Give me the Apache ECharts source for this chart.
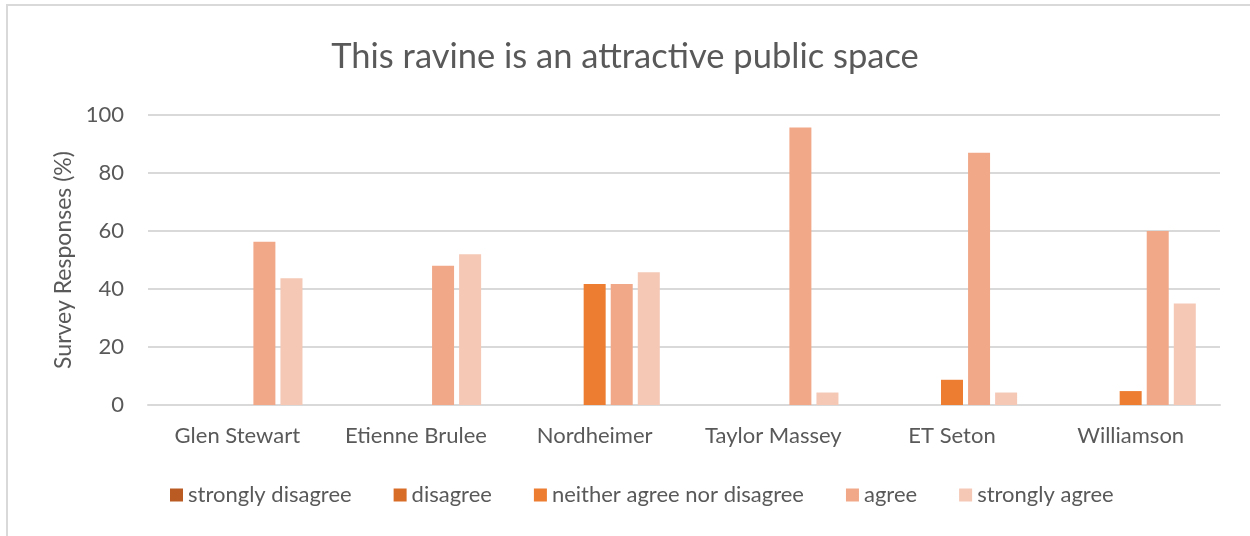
<!DOCTYPE html>
<html>
<head>
<meta charset="utf-8">
<script src="https://cdn.jsdelivr.net/npm/echarts@6/dist/echarts.min.js"></script>
<style>
  html, body { margin: 0; padding: 0; background: #ffffff; }
  #chart { width: 1250px; height: 536px; }
</style>
</head>
<body>
<div id="chart"></div>
<script>
// Ravine survey: share of responses per ravine (%)
const ravines = ['Glen Stewart', 'Etienne Brulee', 'Nordheimer', 'Taylor Massey', 'ET Seton', 'Williamson'];
const responseLabels = ['strongly disagree', 'disagree', 'neither agree nor disagree', 'agree', 'strongly agree'];
const stronglyDisagree = [0, 0, 0, 0, 0, 0];
const disagree = [0, 0, 0, 0, 0, 0];
const neither = [0, 0, 41.7, 0, 8.7, 4.8];
const agree = [56.3, 48, 41.7, 95.7, 87, 60];
const stronglyAgree = [43.7, 52, 45.8, 4.3, 4.3, 35];
const yTicks = [0, 20, 40, 60, 80, 100];

const seriesValues = [stronglyDisagree, disagree, neither, agree, stronglyAgree];
const colors = ['#B95B22', '#D86D28', '#ED7D31', '#F1A889', '#F5C7B5'];

const fontFamily = 'Lato, "Open Sans", sans-serif';
const textColor = '#595959';
const lineColor = '#d9d9d9';

const chart = echarts.init(document.getElementById('chart'), null, { renderer: 'canvas' });

chart.setOption({
  backgroundColor: '#ffffff',
  animation: false,
  color: colors,
  title: {
    text: 'This ravine is an attractive public space',
    left: 'center',
    top: 34,
    textStyle: { fontFamily, fontSize: 34.5, fontWeight: 'normal', color: textColor }
  },
  graphic: [{
    type: 'rect',
    shape: { x: 7, y: 5, width: 1400, height: 700 },
    style: { fill: 'none', stroke: lineColor, lineWidth: 2 },
    silent: true
  }],
  legend: {
    data: responseLabels,
    top: 479,
    left: 165,
    itemWidth: 13,
    itemHeight: 13,
    itemGap: 42,
    icon: 'rect',
    textStyle: { fontFamily, fontSize: 22, color: textColor }
  },
  grid: { left: 148, right: 30, top: 115, bottom: 131 },
  xAxis: {
    type: 'category',
    data: ravines,
    axisLine: { lineStyle: { color: lineColor, width: 2 } },
    axisTick: { show: false },
    axisLabel: { fontFamily, fontSize: 22, color: textColor, margin: 20, interval: 0, hideOverlap: false }
  },
  yAxis: {
    type: 'value',
    min: yTicks[0],
    max: yTicks[yTicks.length - 1],
    interval: yTicks[1] - yTicks[0],
    name: 'Survey Responses (%)',
    nameLocation: 'middle',
    nameGap: 73,
    nameTextStyle: { fontFamily, fontSize: 23, color: textColor },
    axisLine: { show: false },
    axisTick: { show: false },
    axisLabel: { fontFamily, fontSize: 22, color: textColor, margin: 24 },
    splitLine: { lineStyle: { color: lineColor, width: 2 } }
  },
  series: responseLabels.map((name, i) => ({
    name,
    type: 'bar',
    data: seriesValues[i],
    barWidth: 22,
    barGap: '23%',
    itemStyle: { color: colors[i] }
  }))
});
</script>
</body>
</html>
